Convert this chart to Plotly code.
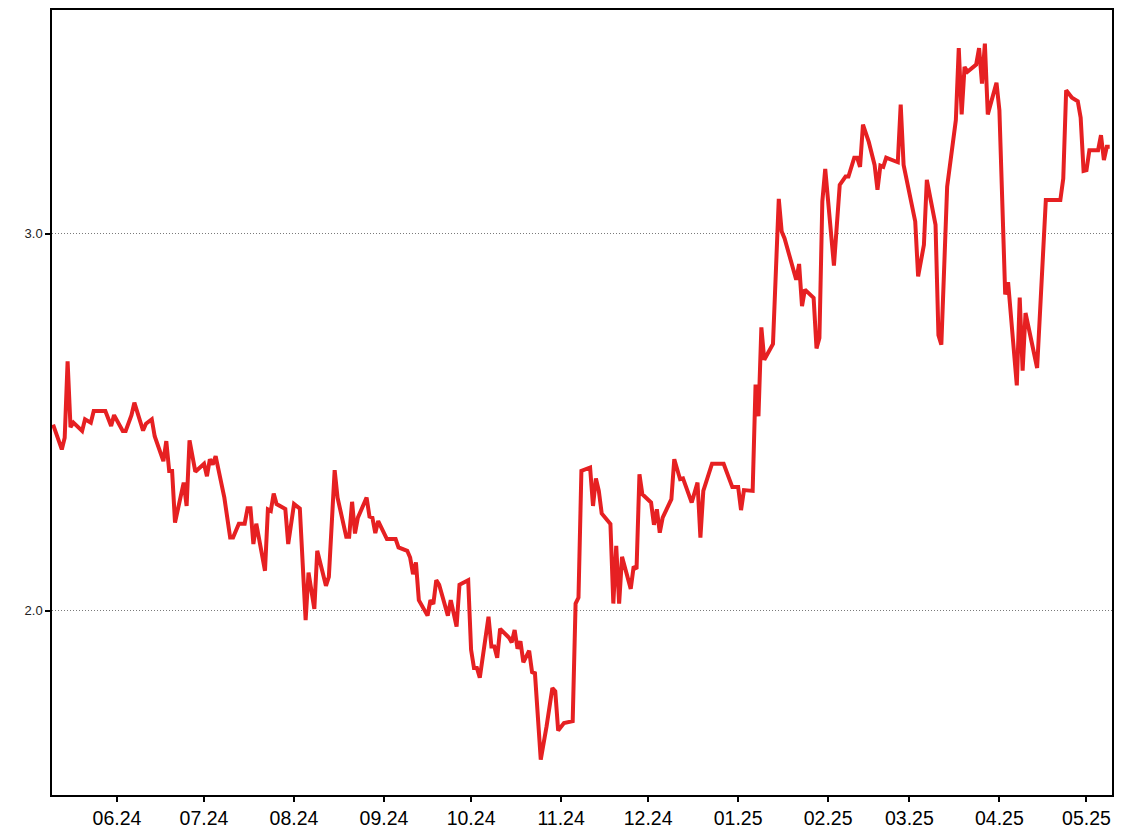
import plotly.graph_objects as go

dates = [
    "2024-05-10", "2024-05-13", "2024-05-14", "2024-05-15", "2024-05-16", "2024-05-17", "2024-05-20", "2024-05-21",
    "2024-05-23", "2024-05-24", "2024-05-28", "2024-05-30", "2024-05-31",
    "2024-06-03", "2024-06-04", "2024-06-06", "2024-06-07", "2024-06-10", "2024-06-11", "2024-06-13", "2024-06-14",
    "2024-06-17", "2024-06-18", "2024-06-19", "2024-06-20", "2024-06-21", "2024-06-24", "2024-06-25", "2024-06-26",
    "2024-06-28",
    "2024-07-01", "2024-07-02", "2024-07-03", "2024-07-04", "2024-07-05", "2024-07-08", "2024-07-10", "2024-07-11",
    "2024-07-13", "2024-07-15", "2024-07-16", "2024-07-17", "2024-07-18", "2024-07-19", "2024-07-22", "2024-07-23",
    "2024-07-24", "2024-07-25", "2024-07-26", "2024-07-29", "2024-07-30",
    "2024-08-01", "2024-08-03", "2024-08-05", "2024-08-06", "2024-08-08", "2024-08-09", "2024-08-12", "2024-08-13",
    "2024-08-15", "2024-08-16", "2024-08-19", "2024-08-20", "2024-08-21", "2024-08-22", "2024-08-23", "2024-08-26",
    "2024-08-27", "2024-08-28", "2024-08-29", "2024-08-30",
    "2024-09-02", "2024-09-05", "2024-09-06", "2024-09-09", "2024-09-10", "2024-09-11", "2024-09-12", "2024-09-13",
    "2024-09-16", "2024-09-17", "2024-09-18", "2024-09-19", "2024-09-20", "2024-09-23", "2024-09-24", "2024-09-26",
    "2024-09-27", "2024-09-30",
    "2024-10-01", "2024-10-02", "2024-10-03", "2024-10-04", "2024-10-07", "2024-10-08", "2024-10-09", "2024-10-10",
    "2024-10-11", "2024-10-14", "2024-10-15", "2024-10-16", "2024-10-17", "2024-10-18", "2024-10-19", "2024-10-21",
    "2024-10-22", "2024-10-23", "2024-10-25", "2024-10-27", "2024-10-29", "2024-10-30", "2024-10-31",
    "2024-11-02", "2024-11-05", "2024-11-06", "2024-11-07", "2024-11-08", "2024-11-11", "2024-11-12", "2024-11-13",
    "2024-11-14", "2024-11-15", "2024-11-18", "2024-11-19", "2024-11-20", "2024-11-21", "2024-11-22", "2024-11-25",
    "2024-11-26", "2024-11-27", "2024-11-28", "2024-11-29",
    "2024-12-02", "2024-12-03", "2024-12-04", "2024-12-05", "2024-12-06", "2024-12-09", "2024-12-10", "2024-12-12",
    "2024-12-13", "2024-12-16", "2024-12-18", "2024-12-19", "2024-12-20", "2024-12-23", "2024-12-27", "2024-12-30",
    "2025-01-01", "2025-01-02", "2025-01-03", "2025-01-06", "2025-01-07", "2025-01-08", "2025-01-09", "2025-01-10",
    "2025-01-13", "2025-01-15", "2025-01-16", "2025-01-17", "2025-01-21", "2025-01-22", "2025-01-23", "2025-01-24",
    "2025-01-27", "2025-01-28", "2025-01-29", "2025-01-30", "2025-01-31",
    "2025-02-03", "2025-02-05", "2025-02-07", "2025-02-08", "2025-02-10", "2025-02-11", "2025-02-12", "2025-02-13",
    "2025-02-15", "2025-02-17", "2025-02-18", "2025-02-19", "2025-02-20", "2025-02-21", "2025-02-23", "2025-02-25",
    "2025-02-26", "2025-02-27",
    "2025-03-03", "2025-03-04", "2025-03-06", "2025-03-07", "2025-03-10", "2025-03-11", "2025-03-12", "2025-03-14",
    "2025-03-17", "2025-03-18", "2025-03-19", "2025-03-20", "2025-03-21", "2025-03-24", "2025-03-25", "2025-03-26",
    "2025-03-27", "2025-03-28", "2025-03-31",
    "2025-04-01", "2025-04-03", "2025-04-04", "2025-04-07", "2025-04-08", "2025-04-09", "2025-04-10", "2025-04-14",
    "2025-04-15", "2025-04-17", "2025-04-22", "2025-04-23", "2025-04-24", "2025-04-26", "2025-04-28", "2025-04-29",
    "2025-04-30",
    "2025-05-01", "2025-05-02", "2025-05-05", "2025-05-06", "2025-05-07", "2025-05-08", "2025-05-09",
]

values = [
    2.494, 2.428, 2.459, 2.662, 2.487, 2.499, 2.477, 2.508,
    2.499, 2.530, 2.530, 2.490, 2.519,
    2.477, 2.477, 2.519, 2.552, 2.478, 2.496, 2.508, 2.463,
    2.397, 2.450, 2.371, 2.371, 2.234, 2.340, 2.278, 2.452,
    2.369,
    2.390, 2.357, 2.402, 2.388, 2.410, 2.300, 2.194, 2.194,
    2.231, 2.231, 2.272, 2.272, 2.177, 2.231, 2.106, 2.269,
    2.265, 2.311, 2.283, 2.270, 2.177,
    2.283, 2.271, 1.975, 2.101, 2.005, 2.159, 2.066, 2.090,
    2.373, 2.300, 2.196, 2.196, 2.289, 2.205, 2.247, 2.300,
    2.250, 2.247, 2.206, 2.238,
    2.190, 2.190, 2.168, 2.159, 2.141, 2.097, 2.128, 2.028,
    1.987, 2.028, 2.018, 2.081, 2.069, 1.987, 2.028, 1.958,
    2.069, 2.081,
    1.896, 1.848, 1.848, 1.822, 1.984, 1.905, 1.905, 1.875,
    1.952, 1.929, 1.916, 1.949, 1.899, 1.919, 1.863, 1.894,
    1.837, 1.834, 1.605, 1.693, 1.795, 1.786, 1.682,
    1.702, 1.707, 2.019, 2.035, 2.371, 2.380, 2.278, 2.351,
    2.318, 2.258, 2.230, 2.019, 2.172, 2.019, 2.143, 2.058,
    2.117, 2.111, 2.362, 2.309,
    2.287, 2.228, 2.269, 2.207, 2.247, 2.296, 2.402, 2.349,
    2.351, 2.287, 2.340, 2.194, 2.318, 2.390, 2.390, 2.328,
    2.328, 2.267, 2.320, 2.318, 2.600, 2.516, 2.752, 2.666,
    2.708, 3.093, 3.006, 2.988, 2.878, 2.920, 2.808, 2.852,
    2.830, 2.696, 2.724, 3.086, 3.172,
    2.916, 3.130, 3.152, 3.152, 3.202, 3.202, 3.178, 3.290,
    3.244, 3.183, 3.117, 3.181, 3.178, 3.202, 3.196, 3.190,
    3.343, 3.183,
    3.033, 2.887, 2.971, 3.143, 3.024, 2.731, 2.706, 3.125,
    3.302, 3.493, 3.317, 3.443, 3.430, 3.449, 3.493, 3.399,
    3.505, 3.317, 3.401,
    3.328, 2.839, 2.872, 2.598, 2.831, 2.637, 2.790, 2.644,
    2.803, 3.090, 3.090, 3.147, 3.381, 3.361, 3.352, 3.308,
    3.167,
    3.169, 3.222, 3.222, 3.262, 3.196, 3.231, 3.231,
]

y_ticks = [2.0, 3.0]
x_range = ["2024-05-09 15:00", "2025-05-09 19:00"]
y_range = [1.511, 3.594]

fig = go.Figure()
fig.add_trace(go.Scatter(
    x=dates, y=values, mode="lines",
    line=dict(color="#e62022", width=4),
    showlegend=False,
))

# the page body adds an 8px offset, so margins are adjusted to land the frame
fig.update_layout(
    width=1128, height=836,
    margin=dict(l=44, r=24, t=0, b=49),
    paper_bgcolor="white", plot_bgcolor="white",
    font=dict(family="Liberation Sans, Arial, sans-serif", color="black"),
)
fig.update_xaxes(
    type="date", range=x_range,
    tick0="2024-06-01", dtick="M1", tickformat="%m.%y",
    ticks="outside", ticklen=5, tickcolor="black", tickwidth=1.5,
    tickfont=dict(size=19.5, color="black"),
    showline=True, linecolor="black", linewidth=1.5, mirror=True,
    showgrid=False, zeroline=False,
)
fig.update_yaxes(
    range=y_range, tickvals=y_ticks, tickformat=".1f",
    ticks="outside", ticklen=5, tickcolor="black", tickwidth=1.5,
    tickfont=dict(size=13, color="#222222"),
    showline=True, linecolor="black", linewidth=1.5, mirror=True,
    showgrid=True, gridcolor="#7a7a7a", gridwidth=1, griddash="1px,2px",
    zeroline=False,
)

fig.write_html("out.html")
